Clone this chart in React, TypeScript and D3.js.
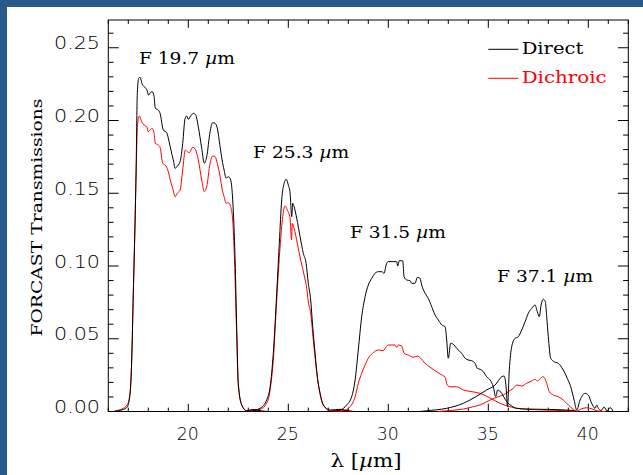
import React from 'react';
import * as d3 from 'd3';

type Pt = [number, number];

// Filter transmission curves: [wavelength (µm), transmission]
const direct197: Pt[] = [[16.24,0],[16.75,0.0014],[16.94,0.003],[17.09,0.0125],[17.17,0.0354],[17.25,0.0812],[17.34,0.1316],[17.39,0.166],[17.45,0.2187],[17.52,0.229],[17.59,0.2297],[17.69,0.2251],[17.79,0.2232],[17.92,0.2214],[18.02,0.2175],[18.12,0.2194],[18.2,0.2198],[18.29,0.2164],[18.35,0.2084],[18.5,0.2072],[18.59,0.2049],[18.75,0.1935],[18.92,0.1916],[19.04,0.1854],[19.14,0.1792],[19.25,0.1729],[19.34,0.1671],[19.42,0.1682],[19.59,0.1717],[19.72,0.1843],[19.84,0.2015],[19.92,0.2031],[20.0,0.2008],[20.12,0.2031],[20.25,0.2049],[20.37,0.2038],[20.5,0.1957],[20.67,0.1809],[20.8,0.1706],[20.92,0.1751],[21.09,0.1923],[21.22,0.1985],[21.34,0.1981],[21.45,0.1946],[21.59,0.182],[21.69,0.1729],[21.79,0.166],[21.89,0.1603],[22.0,0.1614],[22.12,0.1591],[22.22,0.1454],[22.34,0.1041],[22.42,0.0583],[22.5,0.0194],[22.67,0.0045],[22.92,0.0005],[23.25,0.0014],[23.6,0.0005],[24.0,0]];
const dichroic197: Pt[] = [[16.34,0.0005],[16.75,0.0022],[16.94,0.0045],[17.09,0.0127],[17.17,0.0354],[17.25,0.0812],[17.34,0.1316],[17.39,0.1625],[17.46,0.197],[17.55,0.2031],[17.67,0.1992],[17.79,0.1969],[17.92,0.1957],[18.0,0.1923],[18.09,0.1935],[18.19,0.1946],[18.29,0.1912],[18.35,0.1843],[18.5,0.1832],[18.59,0.1816],[18.72,0.1706],[18.89,0.1687],[19.0,0.1648],[19.12,0.1579],[19.22,0.1534],[19.34,0.1476],[19.45,0.15],[19.59,0.1522],[19.72,0.166],[19.85,0.1797],[19.95,0.1786],[20.05,0.1779],[20.22,0.1816],[20.35,0.1802],[20.5,0.1729],[20.67,0.1591],[20.8,0.1511],[20.92,0.1545],[21.09,0.1706],[21.22,0.1756],[21.34,0.1751],[21.45,0.1706],[21.59,0.1614],[21.7,0.1522],[21.79,0.1476],[21.89,0.1431],[22.0,0.1435],[22.12,0.1408],[22.22,0.1316],[22.31,0.1041],[22.41,0.056],[22.5,0.0182],[22.67,0.0045],[22.92,0.0005],[23.3,0.0012],[23.7,0]];

const direct253: Pt[] = [[23.0,0],[23.59,0.0022],[23.92,0.0079],[24.09,0.017],[24.25,0.04],[24.42,0.0812],[24.55,0.1156],[24.67,0.1454],[24.79,0.1568],[24.89,0.1596],[25.0,0.1557],[25.09,0.15],[25.17,0.1339],[25.22,0.1431],[25.29,0.1408],[25.42,0.1328],[25.59,0.1201],[25.75,0.1087],[25.89,0.1019],[26.0,0.0881],[26.12,0.0766],[26.22,0.0583],[26.34,0.04],[26.45,0.0239],[26.59,0.0125],[26.75,0.0045],[27.09,0.001],[27.59,0.0015],[28.0,0.0005],[28.3,0]];
const dichroic253: Pt[] = [[23.0,0],[23.59,0.0015],[23.92,0.0056],[24.09,0.0148],[24.25,0.0354],[24.42,0.0766],[24.59,0.1133],[24.72,0.1339],[24.84,0.1412],[24.95,0.1385],[25.09,0.1328],[25.16,0.1179],[25.2,0.1293],[25.29,0.1259],[25.45,0.1156],[25.62,0.1041],[25.79,0.0938],[25.92,0.0847],[26.0,0.0755],[26.12,0.0675],[26.25,0.0491],[26.39,0.0308],[26.55,0.0148],[26.75,0.0045],[27.09,0.0005],[27.75,0.0005],[28.2,0]];

const direct315: Pt[] = [[27.09,0],[27.59,0.001],[27.92,0.0045],[28.17,0.0102],[28.34,0.0216],[28.5,0.0423],[28.67,0.0652],[28.84,0.0789],[29.0,0.0869],[29.17,0.0915],[29.34,0.095],[29.5,0.0961],[29.67,0.0961],[29.79,0.095],[29.89,0.1007],[30.0,0.103],[30.25,0.103],[30.42,0.103],[30.47,0.1],[30.55,0.1036],[30.72,0.1036],[30.79,0.0926],[30.92,0.0904],[31.09,0.0899],[31.17,0.0881],[31.34,0.0881],[31.45,0.0922],[31.59,0.0915],[31.67,0.0869],[31.84,0.0812],[32.0,0.0778],[32.17,0.072],[32.34,0.0663],[32.5,0.0629],[32.67,0.0595],[32.84,0.0583],[32.92,0.0491],[33.0,0.0366],[33.12,0.0469],[33.29,0.0457],[33.42,0.0434],[33.67,0.04],[33.84,0.0366],[34.0,0.0354],[34.17,0.0349],[34.34,0.0331],[34.45,0.0297],[34.59,0.029],[34.75,0.0274],[34.92,0.0239],[35.09,0.0216],[35.25,0.017],[35.37,0.0102],[35.47,0.0148],[35.67,0.0125],[35.84,0.0084],[36.0,0.0056],[36.17,0.0038],[36.42,0.0022],[36.92,0.0017],[38.09,0.0014],[39.24,0.0007],[39.39,0]];
const dichroic315: Pt[] = [[27.09,0],[27.75,0.0005],[28.09,0.0033],[28.34,0.0102],[28.5,0.0194],[28.67,0.0263],[28.84,0.032],[29.05,0.0377],[29.25,0.0404],[29.5,0.0423],[29.75,0.0418],[29.89,0.0445],[30.0,0.0457],[30.34,0.0457],[30.42,0.0441],[30.5,0.0457],[30.67,0.045],[30.79,0.04],[31.0,0.0388],[31.25,0.0373],[31.45,0.0381],[31.62,0.0366],[31.84,0.0331],[32.09,0.0304],[32.34,0.028],[32.59,0.0258],[32.84,0.0235],[32.95,0.0182],[33.09,0.017],[33.42,0.017],[33.75,0.0148],[34.09,0.0138],[34.59,0.0125],[35.09,0.0093],[35.59,0.0056],[36.09,0.0033],[36.42,0.0022],[37.09,0.0014],[38.59,0.0007],[39.39,0]];

const direct371: Pt[] = [[31.59,0],[31.92,0.0005],[32.92,0.0022],[33.75,0.0056],[34.42,0.0105],[34.92,0.0148],[35.34,0.0182],[35.67,0.0239],[35.79,0.0244],[35.89,0.017],[35.96,0.0033],[36.05,0.0285],[36.17,0.0445],[36.34,0.0503],[36.5,0.0514],[36.67,0.056],[36.84,0.0617],[37.0,0.0675],[37.17,0.0709],[37.34,0.0732],[37.45,0.0686],[37.55,0.0652],[37.64,0.0732],[37.75,0.0771],[37.85,0.0755],[37.92,0.0652],[38.0,0.0514],[38.12,0.0366],[38.29,0.0342],[38.5,0.0331],[38.75,0.0285],[38.95,0.0228],[39.12,0.017],[39.29,0.0079],[39.42,0.001],[39.59,0.0079],[39.84,0.0125],[40.0,0.0113],[40.17,0.0056],[40.34,0.0022],[40.42,0.0045],[40.5,0.0022],[40.64,0.0007],[40.79,0.0031],[40.94,0.0003],[41.09,0.0027],[41.24,0]];
const dichroic371: Pt[] = [[32.5,0],[32.92,0.0005],[33.75,0.0017],[34.25,0.0033],[34.59,0.0045],[35.09,0.0079],[35.5,0.0102],[35.75,0.0113],[36.0,0.0136],[36.25,0.0159],[36.42,0.0182],[36.67,0.0175],[36.92,0.0194],[37.17,0.021],[37.34,0.0221],[37.45,0.021],[37.59,0.0225],[37.72,0.0239],[37.8,0.0234],[37.92,0.0194],[38.05,0.0136],[38.25,0.0113],[38.5,0.0102],[38.75,0.0079],[39.0,0.0045],[39.25,0.0015],[39.42,0.0003],[39.64,0.0017],[39.92,0.0026],[40.19,0.0017],[40.5,0.0003],[40.85,0]];

const directCurves = [direct197, direct253, direct315, direct371];
const dichroicCurves = [dichroic197, dichroic253, dichroic315, dichroic371];

// Filter names and where their labels sit, in data units (left edge, baseline)
const filterNames = ['F 19.7', 'F 25.3', 'F 31.5', 'F 37.1'];
const filterLabelAt: Pt[] = [[17.53, 0.2388], [23.24, 0.1745], [28.08, 0.1190], [35.44, 0.0892]];

const xMajor = [20, 25, 30, 35, 40];
const yMajor = [0, 0.05, 0.1, 0.15, 0.2, 0.25];
const yTickText = ['0.00', '0.05', '0.10', '0.15', '0.20', '0.25'];

const seriesNames = ['Direct', 'Dichroic'];
const seriesColors = ['#000000', '#ff0000'];

const SERIF = "'DejaVu Serif', serif";
const SANS = "'DejaVu Sans', 'Liberation Sans', sans-serif";

export default function App() {
  const left = 108.3, right = 628.3, top = 20, bottom = 411.5;
  const x = d3.scaleLinear().domain([16, 42]).range([left, right]);
  const y = d3.scaleLinear().domain([0, (bottom - top) / 1455]).range([bottom, top]);
  const line = d3.line<Pt>().x(d => x(d[0])).y(d => y(d[1])).curve(d3.curveMonotoneX);

  const xMinor = d3.range(16, 43).filter(v => v % 5 !== 0);
  const yMinor = d3.range(0, 27).filter(i => i % 5 !== 0).map(i => i / 100);

  const xLong = 7.8, xShort = 3.9, yLong = 10.4, yShort = 5.2;

  return (
    <svg width={643} height={475} style={{ position: 'absolute', left: 0, top: 0, background: '#fff' }}>
      <rect x={0} y={0} width={643} height={7} fill="#2a5a8c" />
      <rect x={0} y={0} width={7} height={475} fill="#2a5a8c" />

      <g stroke="#000" strokeWidth={1} fill="none">
        <rect x={left} y={top} width={right - left} height={bottom - top} />
        {xMajor.map(v => (
          <g key={'xM' + v}>
            <line x1={x(v)} x2={x(v)} y1={bottom} y2={bottom - xLong} />
            <line x1={x(v)} x2={x(v)} y1={top} y2={top + xLong} />
          </g>
        ))}
        {xMinor.map(v => (
          <g key={'xm' + v}>
            <line x1={x(v)} x2={x(v)} y1={bottom} y2={bottom - xShort} />
            <line x1={x(v)} x2={x(v)} y1={top} y2={top + xShort} />
          </g>
        ))}
        {yMajor.map(v => (
          <g key={'yM' + v}>
            <line x1={left} x2={left + yLong} y1={y(v)} y2={y(v)} />
            <line x1={right} x2={right - yLong} y1={y(v)} y2={y(v)} />
          </g>
        ))}
        {yMinor.map(v => (
          <g key={'ym' + v}>
            <line x1={left} x2={left + yShort} y1={y(v)} y2={y(v)} />
            <line x1={right} x2={right - yShort} y1={y(v)} y2={y(v)} />
          </g>
        ))}
      </g>

      <g fill="none" strokeWidth={1}>
        {dichroicCurves.map((c, i) => (
          <path key={'r' + i} d={line(c) || ''} stroke={seriesColors[1]} />
        ))}
        {directCurves.map((c, i) => (
          <path key={'k' + i} d={line(c) || ''} stroke={seriesColors[0]} />
        ))}
      </g>

      <g fontFamily={SANS} fontSize={17} fontWeight={200} fill="#000">
        {xMajor.map(v => (
          <text key={'xl' + v} x={x(v) - 0.5} y={440} textAnchor="middle" textLength={22} lengthAdjust="spacingAndGlyphs">{String(v)}</text>
        ))}
        {yMajor.map((v, i) => (
          <text key={'yl' + v} x={100} y={y(v) + 1.5} textAnchor="end" textLength={46} lengthAdjust="spacingAndGlyphs">{yTickText[i]}</text>
        ))}
      </g>

      <g fontFamily={SERIF} fill="#000">
        <text x={366} y={467} fontSize={19} textAnchor="middle" textLength={71} lengthAdjust="spacingAndGlyphs">
          {'λ ['}<tspan fontStyle="italic">µ</tspan>{'m]'}
        </text>
        <text transform="translate(41.5,217.5) rotate(-90)" fontSize={15.5} textAnchor="middle" textLength={238} lengthAdjust="spacingAndGlyphs">
          FORCAST Transmissions
        </text>
        {filterNames.map((n, i) => (
          <text key={n} x={x(filterLabelAt[i][0])} y={y(filterLabelAt[i][1])} fontSize={16} textLength={96} lengthAdjust="spacingAndGlyphs">
            {n + ' '}<tspan fontStyle="italic">µ</tspan>{'m'}
          </text>
        ))}
      </g>

      <g fontFamily={SERIF} fontSize={17}>
        {seriesNames.map((n, i) => (
          <g key={n}>
            <line x1={488.3} x2={518.3} y1={49.3 + i * 29} y2={49.3 + i * 29} stroke={seriesColors[i]} strokeWidth={1} />
            <text x={521.7} y={54.3 + i * 29} fill={seriesColors[i]} textLength={i === 0 ? 61.6 : 85} lengthAdjust="spacingAndGlyphs">{n}</text>
          </g>
        ))}
      </g>
    </svg>
  );
}
